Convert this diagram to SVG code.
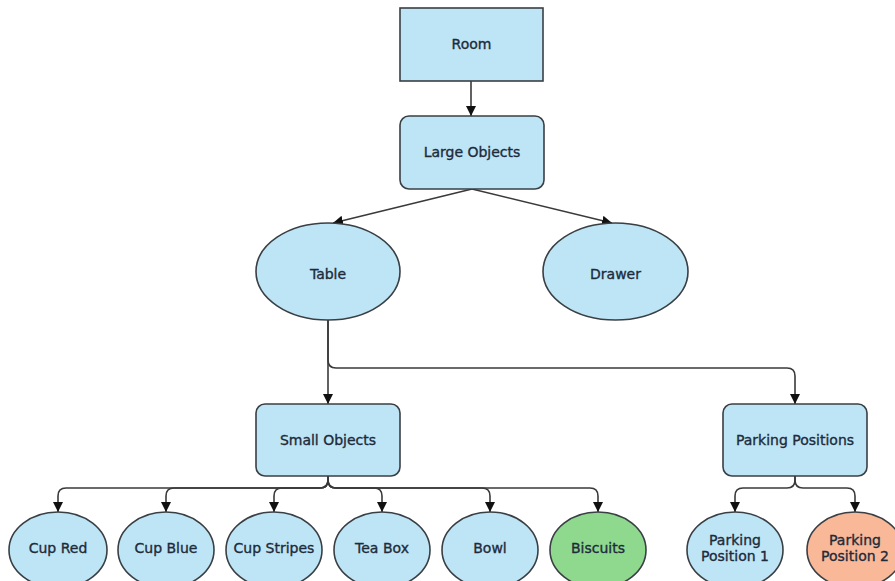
<svg xmlns="http://www.w3.org/2000/svg" width="895" height="581" viewBox="0 0 895 581">
<defs>
<style>
.n{fill:#bde5f6;stroke:#3a3f44;stroke-width:1.6}
.g{fill:#8fd98f}
.o{fill:#f9b898}
.t{font-family:"DejaVu Sans","Liberation Sans",sans-serif;font-size:14px;fill:#1e2b3a;stroke:#1e2b3a;stroke-width:0.35;text-anchor:middle}
.e{fill:none;stroke:#3a3a3a;stroke-width:1.6}
</style>
<marker id="ah" viewBox="0 0 10 10" refX="10" refY="5" markerWidth="10" markerHeight="10" markerUnits="userSpaceOnUse" orient="auto">
<path d="M0,0 L10,5 L0,10 z" fill="#111"/>
</marker>
</defs>
<rect width="895" height="581" fill="#ffffff"/>
<g id="edges">
<path class="e" d="M471,81 L471,116" marker-end="url(#ah)"/>
<path class="e" d="M472,189 L333,223" marker-end="url(#ah)"/>
<path class="e" d="M472,189 L612,223" marker-end="url(#ah)"/>
<path class="e" d="M328,320 L328,404" marker-end="url(#ah)"/>
<path class="e" d="M328,320 L328,360 Q328,368 336,368 L787,368 Q795,368 795,376 L795,404" marker-end="url(#ah)"/>
<path class="e" d="M328,476 L328,480 Q328,488 320,488 L66,488 Q58,488 58,496 L58,512" marker-end="url(#ah)"/>
<path class="e" d="M328,476 L328,480 Q328,488 320,488 L174,488 Q166,488 166,496 L166,512" marker-end="url(#ah)"/>
<path class="e" d="M328,476 L328,480 Q328,488 320,488 L282,488 Q274,488 274,496 L274,512" marker-end="url(#ah)"/>
<path class="e" d="M328,476 L328,480 Q328,488 336,488 L374,488 Q382,488 382,496 L382,512" marker-end="url(#ah)"/>
<path class="e" d="M328,476 L328,480 Q328,488 336,488 L482,488 Q490,488 490,496 L490,512" marker-end="url(#ah)"/>
<path class="e" d="M328,476 L328,480 Q328,488 336,488 L590,488 Q598,488 598,496 L598,512" marker-end="url(#ah)"/>
<path class="e" d="M795,476 L795,480 Q795,488 787,488 L743,488 Q735,488 735,496 L735,512" marker-end="url(#ah)"/>
<path class="e" d="M795,476 L795,480 Q795,488 803,488 L847,488 Q855,488 855,496 L855,512" marker-end="url(#ah)"/>
</g>
<g id="room"><rect class="n" x="400" y="8" width="143" height="73"/><text class="t" x="471.5" y="49">Room</text></g>
<g id="large-objects"><rect class="n" x="400" y="116" width="144" height="73" rx="9"/><text class="t" x="472" y="157">Large Objects</text></g>
<g id="table"><ellipse class="n" cx="328" cy="271.5" rx="72" ry="48.5"/><text class="t" x="328" y="279">Table</text></g>
<g id="drawer"><ellipse class="n" cx="615.5" cy="271.5" rx="72.5" ry="48.5"/><text class="t" x="615.5" y="279">Drawer</text></g>
<g id="small-objects"><rect class="n" x="256" y="404" width="144" height="72" rx="9"/><text class="t" x="328" y="445">Small Objects</text></g>
<g id="parking-positions"><rect class="n" x="723" y="404" width="144" height="72" rx="9"/><text class="t" x="795" y="445">Parking Positions</text></g>
<g id="cup-red"><ellipse class="n" cx="58" cy="550" rx="49" ry="38"/><text class="t" x="58" y="553">Cup Red</text></g>
<g id="cup-blue"><ellipse class="n" cx="166" cy="550" rx="48" ry="38"/><text class="t" x="166" y="553">Cup Blue</text></g>
<g id="cup-stripes"><ellipse class="n" cx="274" cy="550" rx="48" ry="38"/><text class="t" x="274" y="553">Cup Stripes</text></g>
<g id="tea-box"><ellipse class="n" cx="382" cy="550" rx="48" ry="38"/><text class="t" x="382" y="553">Tea Box</text></g>
<g id="bowl"><ellipse class="n" cx="490" cy="550" rx="48" ry="38"/><text class="t" x="490" y="553">Bowl</text></g>
<g id="biscuits"><ellipse class="n g" cx="598" cy="550" rx="48" ry="38"/><text class="t" x="598" y="553">Biscuits</text></g>
<g id="parking-position-1"><ellipse class="n" cx="735" cy="550" rx="48" ry="38"/><text class="t" x="735" y="545">Parking</text><text class="t" x="735" y="561">Position 1</text></g>
<g id="parking-position-2"><ellipse class="n o" cx="855" cy="550" rx="48" ry="38"/><text class="t" x="855" y="545">Parking</text><text class="t" x="855" y="561">Position 2</text></g>
</svg>
